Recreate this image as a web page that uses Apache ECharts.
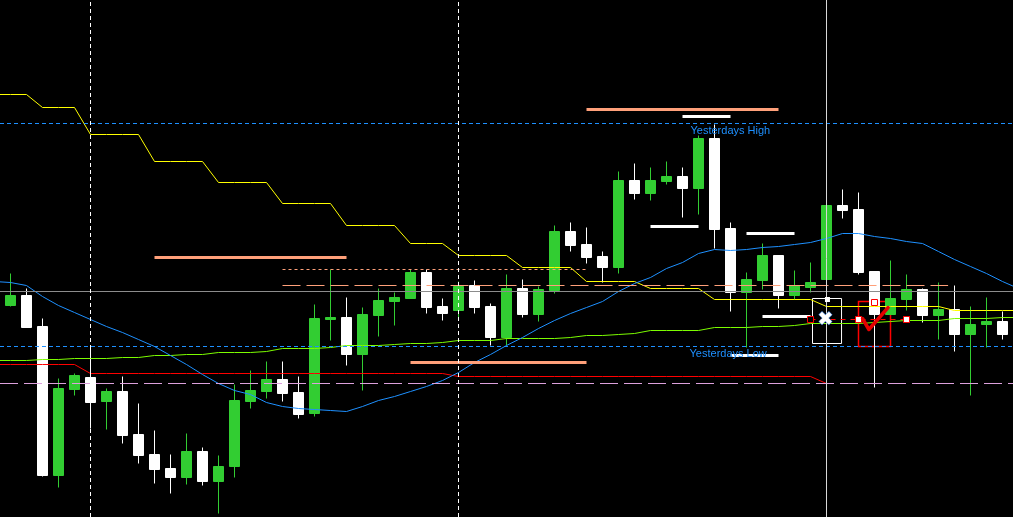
<!DOCTYPE html>
<html>
<head>
<meta charset="utf-8">
<title>Chart</title>
<script src="https://cdn.jsdelivr.net/npm/echarts@6/dist/echarts.min.js"></script>
<style>
html, body { margin: 0; padding: 0; background: #000; }
#chart { width: 1013px; height: 517px; }
</style>
</head>
<body>
<div id="chart"></div>
<script>
// candles, bar 0 = leftmost on screen (price in points)
const opens = [212, 222, 191, 42, 128, 140, 116, 126, 83, 63, 49, 40, 66, 36, 51, 116, 126, 138, 125, 104, 198, 200, 163, 202, 216, 219, 245, 211, 207, 232, 211, 180, 229, 203, 227, 286, 273, 261, 250, 337, 324, 336, 341, 329, 379, 289, 225, 237, 262, 222, 230, 238, 312, 308, 246, 203, 218, 228, 202, 208, 183, 193, 196];
const closes = [222, 190, 42, 129, 142, 115, 126, 82, 62, 48, 40, 66, 36, 51, 117, 127, 138, 124, 103, 199, 200, 163, 203, 217, 220, 245, 210, 204, 231, 210, 180, 229, 203, 228, 286, 272, 260, 250, 337, 324, 337, 341, 329, 379, 288, 225, 238, 262, 222, 232, 235, 312, 307, 245, 203, 219, 228, 202, 208, 183, 193, 196, 183];
const lows = [211, 190, 41, 30, 122, 89, 88, 74, 54, 34, 24, 33, 32, 4, 40, 109, 119, 116, 99, 101, 177, 152, 127, 181, 192, 219, 204, 197, 200, 204, 172, 172, 200, 196, 224, 266, 254, 235, 244, 318, 317, 333, 300, 303, 269, 206, 170, 228, 209, 218, 225, 238, 299, 243, 130, 203, 207, 195, 178, 166, 122, 170, 178];
const highs = [244, 229, 199, 139, 144, 170, 129, 141, 114, 87, 63, 84, 70, 62, 133, 147, 156, 156, 141, 213, 248, 220, 210, 229, 225, 248, 248, 219, 236, 237, 214, 243, 238, 231, 292, 295, 290, 266, 346, 354, 350, 356, 350, 382, 393, 295, 245, 274, 262, 247, 255, 312, 328, 325, 246, 257, 243, 229, 235, 232, 211, 220, 206];

// indicator lines, starting one bar before bar 0
const stepLine = [423, 423, 423, 410, 410, 410, 383, 383, 383, 383, 356, 356, 356, 356, 335, 335, 335, 335, 314, 314, 314, 314, 292, 292, 292, 292, 274, 274, 274, 262, 262, 262, 262, 250, 250, 250, 250, 236, 236, 236, 236, 229, 229, 229, 229, 218, 218, 218, 218, 218, 218, 218, 211, 211, 211, 211, 211, 211, 211, 211, 207, 207, 207, 207, 207];
const maLine = [236, 235, 232, 221, 212, 205, 198, 191, 185, 178, 171, 162, 153, 143, 134, 127, 123, 115, 111, 109, 108, 107, 106, 111, 117, 121, 126, 131, 137, 145, 155, 163, 172, 180, 189, 197, 204, 210, 216, 226, 234, 240, 249, 255, 264, 268, 267, 268, 270, 271, 273, 275, 279, 284, 284, 281, 279, 276, 274, 266, 258, 251, 244, 236, 229];
const slowLine = [157, 157, 157, 158, 158, 159, 159, 159, 160, 160, 162, 162, 163, 163, 165, 165, 165, 166, 169, 169, 169, 170, 172, 172, 172, 173, 174, 174, 175, 177, 177, 177, 179, 179, 179, 179, 180, 182, 182, 183, 184, 187, 187, 187, 187, 190, 190, 190, 191, 191, 192, 194, 194, 194, 194, 195, 196, 197, 197, 197, 199, 199, 199, 200, 200];
const stopLine = [153, 153, 153, 153, 153, 153, 144, 144, 144, 144, 144, 144, 144, 144, 144, 144, 144, 144, 144, 144, 144, 144, 144, 144, 144, 144, 144, 144, 144, 141, 141, 141, 141, 141, 141, 141, 141, 141, 141, 141, 141, 141, 141, 141, 141, 141, 141, 141, 141, 141, 141, 141, 134];

// levels
const yesterdayHL = [394, 171];
const pivotLevel = 226;
const lowerLevel = 134;
const sessionLevels = [328, 123];
const entryLevel = 198;
const upperDotted = 248;
const upperDashed = 232;
// [from bar, to bar, price]
const salmonSegments = [[36, 48, 408], [9, 21, 260], [25, 36, 155]];
const whiteSegments = [[42, 45, 401], [40, 43, 291], [46, 49, 284], [47, 50, 201], [45, 48, 162]];
const sessionMarks = [5, 28];
const currentBar = 51;
// closed-trade tick: [bar, price]
const checkMark = [[53.25, 199], [53.65, 188], [54.85, 210]];

const withIndex = (arr) => arr.map((v, i) => [i - 1, v]);
const bars = opens.map((o, i) => [i, o, closes[i], lows[i], highs[i]]);

const seg = (s, color, width) => [
  { coord: [s[0], s[2]], lineStyle: { color: color, width: width, type: 'solid' } },
  { coord: [s[1], s[2]] },
];

const levelLines = [
  { yAxis: yesterdayHL[0], lineStyle: { color: '#1e90ff', type: [4, 3] } },
  { yAxis: yesterdayHL[1], lineStyle: { color: '#1e90ff', type: [4, 3] } },
  { yAxis: pivotLevel, lineStyle: { color: '#8c8c8c', type: 'solid' } },
  { yAxis: lowerLevel, lineStyle: { color: '#dda0dd', type: [18, 6] } },
  [{ coord: [17, upperDotted], lineStyle: { color: '#ffa07a', type: [3, 3] } }, { coord: [36, upperDotted] }],
  [{ coord: [17, upperDashed], lineStyle: { color: '#ffa07a', type: [18, 6] } }, { coord: [58.6, upperDashed] }],
  [{ coord: [currentBar, sessionLevels[0]], lineStyle: { color: '#c8c8c8', type: [10, 4, 3, 4] } }, { coord: [63, sessionLevels[0]] }],
  [{ coord: [currentBar, sessionLevels[1]], lineStyle: { color: '#c8c8c8', type: [10, 4, 3, 4] } }, { coord: [63, sessionLevels[1]] }],
  [{ coord: [currentBar, lowerLevel], lineStyle: { color: '#ff0000', type: [6, 18], dashOffset: 16 } }, { coord: [63, lowerLevel] }],
  [{ coord: [50, entryLevel], lineStyle: { color: '#ff0000', type: [5, 5] } }, { coord: [56, entryLevel] }],
  ...salmonSegments.map((s) => seg(s, '#ffa07a', 3)),
  ...whiteSegments.map((s) => seg(s, '#ffffff', 3)),
  ...sessionMarks.map((b) => ({ xAxis: b, lineStyle: { color: '#ffffff', type: [4, 3] } })),
  { xAxis: currentBar, lineStyle: { color: '#d8d8d8', type: 'solid' } },
];

const sq = (x, y, fill, border, size) => ({
  coord: [x, y], symbol: 'rect', symbolSize: size || 6,
  itemStyle: { color: fill, borderColor: border || fill, borderWidth: border ? 1 : 0 },
  label: { show: false },
});
const txt = (x, y, text, color, size, align, extra) => ({
  coord: [x, y], symbol: 'circle', symbolSize: 1,
  itemStyle: { color: 'rgba(0,0,0,0)' },
  label: Object.assign({
    show: true, position: 'inside', formatter: text, color: color,
    fontSize: size, align: align, verticalAlign: 'middle',
    fontFamily: 'Liberation Sans',
  }, extra || {}),
});

const chart = echarts.init(document.getElementById('chart'));
chart.setOption({
  backgroundColor: '#000000',
  animation: false,
  grid: { left: 0, right: 0, top: 0, bottom: 0 },
  xAxis: { type: 'value', min: -0.65625, max: 62.65625, show: false },
  yAxis: { type: 'value', min: 0.5, max: 517.5, show: false },
  series: [
    {
      type: 'candlestick',
      data: bars,
      barWidth: 10,
      z: 2,
      itemStyle: {
        color: '#32cd32', color0: '#ffffff',
        borderColor: '#32cd32', borderColor0: '#ffffff', borderWidth: 1,
      },
    },
    {
      type: 'line', data: withIndex(stopLine), symbol: 'none', z: 3,
      lineStyle: { color: '#ff0000', width: 1 },
    },
    {
      type: 'line', data: withIndex(slowLine), symbol: 'none', z: 3,
      lineStyle: { color: '#7cfc00', width: 1 },
    },
    {
      type: 'line', data: withIndex(stepLine), symbol: 'none', z: 3,
      lineStyle: { color: '#ffff00', width: 1 },
    },
    {
      type: 'line', data: withIndex(maLine), symbol: 'none', z: 4,
      lineStyle: { color: '#1e90ff', width: 1 },
    },
    {
      type: 'line', data: [], z: 5, silent: true,
      markLine: {
        silent: true, symbol: ['none', 'none'], label: { show: false },
        animation: false, data: levelLines,
      },
      markArea: {
        silent: true,
        data: [
          [{ coord: [50.125, 219], itemStyle: { color: 'rgba(0,0,0,0)', borderColor: '#ffffff', borderWidth: 1 } }, { coord: [51.94, 174] }],
          [{ coord: [53, 216], itemStyle: { color: 'rgba(0,0,0,0)', borderColor: '#ff0000', borderWidth: 1.5 } }, { coord: [55, 171] }],
        ],
      },
      markPoint: {
        silent: true,
        data: [
          sq(50, entryLevel, '#000000', '#ff0000'),
          sq(53, entryLevel, '#ffffff', '#ff0000'),
          sq(54, 215, 'rgba(0,0,0,0)', '#ff0000'),
          sq(56, entryLevel, '#ffffff', '#ff0000'),
          sq(51.06, 218, '#ffffff', null, 5),
          txt(50.94, 197, '✖', '#ffffff', 19, 'center', { fontFamily: 'DejaVu Sans', textBorderColor: '#3a7bd5', textBorderWidth: 1 }),
          txt(42.5, 387, 'Yesterdays High', '#1e90ff', 11, 'left'),
          txt(42.44, 164, 'Yesterdays Low', '#1e90ff', 11, 'left'),
        ],
      },
    },
    {
      type: 'line', data: checkMark, symbol: 'none', z: 6, silent: true,
      lineStyle: { color: '#e60000', width: 3.5, cap: 'round', join: 'round' },
    },
  ],
});
</script>
</body>
</html>
